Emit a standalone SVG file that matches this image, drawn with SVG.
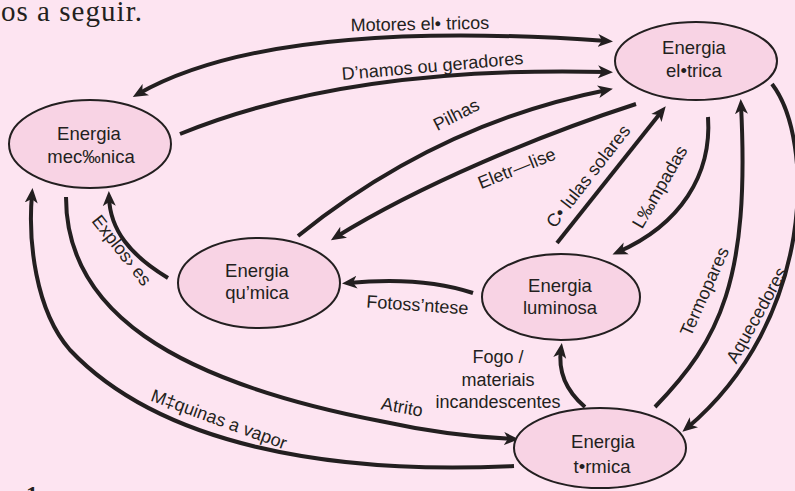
<svg xmlns="http://www.w3.org/2000/svg" width="795" height="491" viewBox="0 0 795 491">
<defs>
<marker id="ah" markerUnits="userSpaceOnUse" markerWidth="17" markerHeight="14" refX="9" refY="6.5" orient="auto-start-reverse" viewBox="0 0 17 13">
<path d="M0,0 L15,6.5 L0,13 L4,6.5 Z" fill="#231f20"/>
</marker>
<style>
.bg{fill:#fde4f1}
.node ellipse{fill:#f8d3e4;stroke:#231f20;stroke-width:2}
.node text{font-family:"Liberation Sans",Arial,sans-serif;font-size:18.5px;fill:#231f20;text-anchor:middle}
.conn path{fill:none;stroke:#231f20;stroke-width:4}
.arr{marker-end:url(#ah)}
.lbl text{font-family:"Liberation Sans",Arial,sans-serif;font-size:18px;fill:#231f20;text-anchor:middle}
</style>
</defs>
<rect class="bg" x="0" y="0" width="795" height="491"/>
<text x="1" y="21" font-family="'Liberation Serif',serif" font-size="29" fill="#231f20" textLength="141">os a seguir.</text>
<text x="26" y="502" font-family="'Liberation Serif',serif" font-size="24" font-weight="bold" fill="#231f20">1</text>

<g id="connectors" class="conn">
<path id="c-motores" d="M138,94 C250,30 450,30 607,41" marker-start="url(#ah)" marker-end="url(#ah)"/>
<path id="c-dinamos" class="arr" d="M180,134 C300,85 450,68 607,72"/>
<path id="c-pilhas" class="arr" d="M298,236 C380,170 480,115 607,90"/>
<path id="c-eletrolise" class="arr" d="M636,104 C540,135 420,185 336,237"/>
<path id="c-celulas" class="arr" d="M557,243 L662,111"/>
<path id="c-lampadas" class="arr" d="M708,117 C712,175 680,225 618,252"/>
<path id="c-termopares" class="arr" d="M655,407 C720,340 750,280 741,105"/>
<path id="c-aquecedores" class="arr" d="M772,84 C815,140 815,320 687,428"/>
<path id="c-explosoes" class="arr" d="M168,278 C130,255 110,230 109,197"/>
<path id="c-fotossintese" class="arr" d="M473,293 C440,282 400,278 348,283"/>
<path id="c-fogo" class="arr" d="M585,407 C565,390 558,370 561,349"/>
<path id="c-atrito" class="arr" d="M66,197 C66,310 170,380 380,421 C430,432 470,437 513,439"/>
<path id="c-maquinas" class="arr" d="M514,466 C330,475 160,445 70,350 C35,310 28,240 32,194"/>
</g>

<g id="labels" class="lbl">
<text x="420" y="30" transform="rotate(-1 420 30)">Motores el• tricos</text>
<text x="433" y="72" transform="rotate(-5 433 72)">D’namos ou geradores</text>
<text x="459" y="120" transform="rotate(-27 459 120)">Pilhas</text>
<text x="519" y="174" transform="rotate(-22 519 174)">Eletr—lise</text>
<text x="593" y="180" transform="rotate(-52 593 180)">C• lulas solares</text>
<text x="665" y="190" transform="rotate(-60 665 190)">L‰mpadas</text>
<text x="710" y="294" transform="rotate(-66 710 294)">Termopares</text>
<text x="762" y="318" transform="rotate(-61 762 318)">Aquecedores</text>
<text x="117" y="254" transform="rotate(52 117 254)">Explos› es</text>
<text x="417" y="311" transform="rotate(4 417 311)">Fotoss’ntese</text>
<text x="498" y="363">Fogo /</text>
<text x="498" y="386">materiais</text>
<text x="498" y="408">incandescentes</text>
<text x="401" y="413" transform="rotate(10 401 413)">Atrito</text>
<text x="217" y="425" transform="rotate(20 217 425)">M‡quinas a vapor</text>
</g>

<g id="node-mecanica" class="node">
<ellipse cx="90" cy="144" rx="81" ry="44"/>
<text x="89" y="140">Energia</text>
<text x="91" y="163">mec‰nica</text>
</g>
<g id="node-eletrica" class="node">
<ellipse cx="696" cy="61" rx="81" ry="39"/>
<text x="694" y="54">Energia</text>
<text x="694" y="77">el•trica</text>
</g>
<g id="node-quimica" class="node">
<ellipse cx="259" cy="283" rx="81" ry="45"/>
<text x="257" y="277">Energia</text>
<text x="257" y="299">qu’mica</text>
</g>
<g id="node-luminosa" class="node">
<ellipse cx="561" cy="297" rx="79" ry="43"/>
<text x="560" y="292">Energia</text>
<text x="560" y="314">luminosa</text>
</g>
<g id="node-termica" class="node">
<ellipse cx="600" cy="448" rx="86" ry="40"/>
<text x="603" y="448">Energia</text>
<text x="602" y="473">t•rmica</text>
</g>
</svg>
